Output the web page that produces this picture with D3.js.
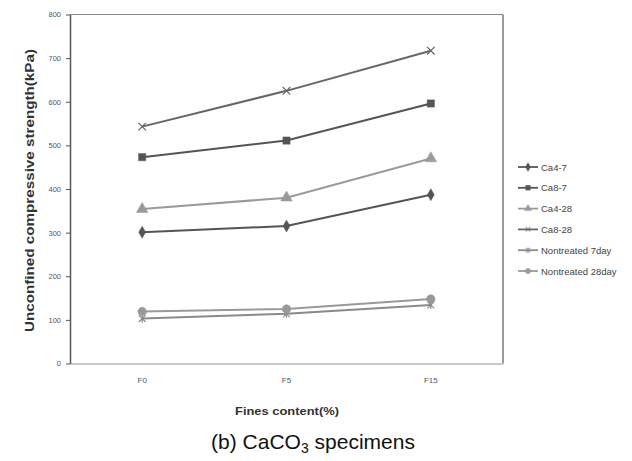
<!DOCTYPE html>
<html>
<head>
<meta charset="utf-8">
<script src="https://cdn.jsdelivr.net/npm/d3@7"></script>
<style>
  body { margin: 0; background: #fff; }
  svg { display: block; font-family: "Liberation Sans", Arial, sans-serif; }
</style>
</head>
<body>
<div id="chart"></div>
<script>
// data
const categories = ["F0", "F5", "F15"];
const seriesNames = ["Ca4-7", "Ca8-7", "Ca4-28", "Ca8-28", "Nontreated 7day", "Nontreated 28day"];
const ca4_7 = [301, 315, 387];
const ca8_7 = [473, 511, 596];
const ca4_28 = [354, 380, 470];
const ca8_28 = [543, 625, 717];
const nt7 = [103, 114, 134];
const nt28 = [119, 125, 148];
const yTicks = [0, 100, 200, 300, 400, 500, 600, 700, 800];

const seriesValues = [ca4_7, ca8_7, ca4_28, ca8_28, nt7, nt28];
const colors = ["#555", "#555", "#9a9a9a", "#666", "#8a8a8a", "#999"];
const symbols = ["diamond", "square", "triangle", "x", "star", "circle"];

const W = 632, H = 461;
const margin = { top: 14.5, right: 129, bottom: 97.5, left: 70 };
const width = W - margin.left - margin.right,
      height = H - margin.top - margin.bottom;

const svg = d3.select("#chart")
  .append("svg")
  .attr("width", W)
  .attr("height", H);

const g = svg.append("g")
  .attr("transform", `translate(${margin.left},${margin.top})`);

const x = d3.scaleBand()
  .domain(categories)
  .range([0, width]);

const y = d3.scaleLinear()
  .domain([0, 800])
  .range([height, 0]);

// plot area border (top + right)
g.append("line").attr("x1", 0).attr("x2", width).attr("y1", 0).attr("y2", 0)
  .attr("stroke", "#888").attr("stroke-width", 1);
g.append("line").attr("x1", width).attr("x2", width).attr("y1", 0).attr("y2", height)
  .attr("stroke", "#777").attr("stroke-width", 1.5);

// x axis
const xAxis = g.append("g")
  .attr("transform", `translate(0,${height})`)
  .call(d3.axisBottom(x).tickSize(0).tickPadding(14));
xAxis.select(".domain").attr("stroke", "#c8c8c8").attr("stroke-width", 2);
xAxis.selectAll("text").attr("font-size", 8).attr("fill", "#555")
  .attr("font-family", "'Liberation Sans Narrow', 'Liberation Sans', sans-serif");

// y axis
const yAxis = g.append("g")
  .call(d3.axisLeft(y).tickValues(yTicks).tickSize(4).tickPadding(5).tickSizeOuter(0));
yAxis.select(".domain").attr("stroke", "#555").attr("stroke-width", 1.5);
yAxis.selectAll(".tick line").attr("stroke", "#555");
yAxis.selectAll("text").attr("font-size", 7.5).attr("fill", "#555")
  .attr("font-family", "'Liberation Sans Narrow', 'Liberation Sans', sans-serif");

// lines
const line = d3.line()
  .x((d, i) => x(categories[i]) + x.bandwidth() / 2)
  .y(d => y(d));

function markerPath(type, size) {
  if (type === "x") {
    const s = size;
    return `M${-s},${-s}L${s},${s}M${-s},${s}L${s},${-s}`;
  }
  if (type === "star") {
    const s = size;
    return `M${-s},${-s}L${s},${s}M${-s},${s}L${s},${-s}M0,${-s * 1.2}L0,${s * 1.2}`;
  }
  const map = { diamond: d3.symbolDiamond, square: d3.symbolSquare, triangle: d3.symbolTriangle, circle: d3.symbolCircle };
  return d3.symbol().type(map[type]).size(size * size * 4)();
}

const markerSize = { diamond: 3.2, square: 3.6, triangle: 3.8, x: 3.8, star: 3.4, circle: 3.8 };

seriesValues.forEach((vals, si) => {
  g.append("path")
    .datum(vals)
    .attr("fill", "none")
    .attr("stroke", colors[si])
    .attr("stroke-width", 2)
    .attr("d", line);

  const open = symbols[si] === "x" || symbols[si] === "star";
  g.selectAll(null)
    .data(vals)
    .join("path")
    .attr("transform", (d, i) => `translate(${x(categories[i]) + x.bandwidth() / 2},${y(d)})`)
    .attr("d", markerPath(symbols[si], markerSize[symbols[si]]))
    .attr("fill", open ? "none" : colors[si])
    .attr("stroke", colors[si])
    .attr("stroke-width", open ? 1.2 : 0.5);
});

// legend
const legend = svg.append("g").attr("transform", "translate(518,167)");
seriesNames.forEach((name, si) => {
  const lg = legend.append("g").attr("transform", `translate(0,${si * 20.8})`);
  lg.append("line").attr("x1", 0).attr("x2", 20).attr("y1", 0).attr("y2", 0)
    .attr("stroke", colors[si]).attr("stroke-width", 1.8);
  const open = symbols[si] === "x" || symbols[si] === "star";
  lg.append("path")
    .attr("transform", "translate(10,0)")
    .attr("d", markerPath(symbols[si], 2.3))
    .attr("fill", open ? "none" : colors[si])
    .attr("stroke", colors[si])
    .attr("stroke-width", open ? 1 : 0.5);
  lg.append("text")
    .attr("x", 23).attr("y", 3.5)
    .attr("font-size", 9.5)
    .attr("fill", "#444")
    .attr("font-family", "'Liberation Sans Narrow', 'Liberation Sans', sans-serif")
    .text(name);
});

// axis titles
svg.append("text")
  .attr("transform", `translate(34,${margin.top + 176}) rotate(-90)`)
  .attr("text-anchor", "middle")
  .attr("font-size", 12.5)
  .attr("font-weight", "bold")
  .attr("fill", "#333")
  .attr("textLength", 283)
  .attr("lengthAdjust", "spacingAndGlyphs")
  .text("Unconfined compressive strength(kPa)");

svg.append("text")
  .attr("x", 287).attr("y", 415)
  .attr("text-anchor", "middle")
  .attr("font-size", 11)
  .attr("font-weight", "bold")
  .attr("fill", "#333")
  .attr("textLength", 104)
  .attr("lengthAdjust", "spacingAndGlyphs")
  .text("Fines content(%)");

// caption
const cap = svg.append("text")
  .attr("x", 313).attr("y", 449)
  .attr("text-anchor", "middle")
  .attr("font-size", 21)
  .attr("fill", "#111");
cap.append("tspan").text("(b)  CaCO");
cap.append("tspan").attr("font-size", 14).attr("dy", 4).text("3");
cap.append("tspan").attr("dy", -4).text("  specimens");
</script>
</body>
</html>
